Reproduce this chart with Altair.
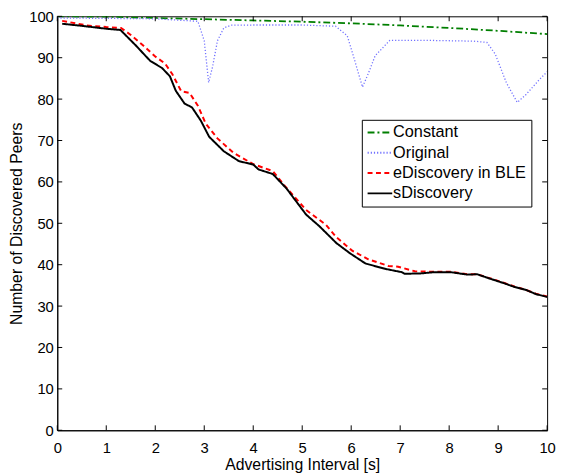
import altair as alt
import pandas as pd

# ---- data ----
const_x = [0, 1, 2, 3, 4, 5, 6, 7, 8, 9, 10]
const_y = [100.0, 99.9, 99.6, 99.3, 99.0, 98.7, 98.3, 97.8, 97.2, 96.5, 95.7]

orig_x = [0, 1, 2, 2.87, 3.0, 3.09, 3.17, 3.27, 3.4, 3.55, 4, 5, 5.68, 5.92, 6.09, 6.23,
          6.35, 6.49, 6.79, 7.5, 8.5, 8.77, 8.94, 9.17, 9.39, 9.57, 9.84, 10.0]
orig_y = [99.6, 99.5, 99.4, 98.8, 94.1, 84.0, 87.8, 94.1, 97.2, 97.85, 97.9, 97.9, 97.6,
          95.3, 88.6, 82.9, 86.2, 90.5, 94.2, 94.2, 94.0, 93.7, 90.9, 83.9, 79.2, 81.1,
          84.7, 86.6]

ed_x = [0.1, 0.6, 1.0, 1.3, 1.5, 1.76, 2.0, 2.2, 2.35, 2.53, 2.7, 2.87, 3.03, 3.27, 3.6,
        4.0, 4.4, 4.64, 5.08, 5.48, 5.7, 6.02, 6.35, 6.76, 6.96, 7.3, 7.7, 8.03, 8.37,
        8.57, 8.84, 9.1, 9.34, 9.57, 9.77, 10.0]
ed_y = [98.9, 97.8, 97.4, 97.2, 95.5, 92.9, 90.3, 88.6, 86.0, 81.9, 81.5, 78.4, 74.1,
        70.5, 67.0, 64.3, 62.6, 59.1, 53.2, 49.7, 46.6, 43.4, 41.3, 39.7, 39.5, 38.4,
        38.3, 38.3, 37.7, 37.7, 36.7, 35.7, 34.7, 33.9, 33.0, 32.3]

sd_x = [0.1, 0.5, 1.0, 1.29, 1.6, 1.9, 2.14, 2.3, 2.42, 2.6, 2.75, 2.93, 3.1, 3.4, 3.71,
        4.0, 4.11, 4.4, 4.68, 5.08, 5.35, 5.7, 5.97, 6.29, 6.69, 7.03, 7.09, 7.43, 7.7,
        8.03, 8.37, 8.57, 8.84, 9.1, 9.34, 9.57, 9.77, 10.0]
sd_y = [98.2, 97.7, 97.0, 96.7, 93.0, 89.2, 87.5, 85.5, 82.0, 78.9, 78.0, 74.8, 70.9,
        67.4, 65.0, 64.2, 63.0, 61.9, 58.4, 52.1, 49.3, 45.2, 42.8, 40.3, 39.0, 38.2,
        37.8, 37.9, 38.2, 38.2, 37.6, 37.7, 36.6, 35.6, 34.6, 33.9, 32.9, 32.2]

series_names = ["Constant", "Original", "eDiscovery in BLE", "sDiscovery"]
series_colors = ["#007f00", "#7070ff", "#ff0000", "#000000"]
series_dash = [[7, 3, 2, 3], [1.2, 2], [5, 3.5], [1, 0]]
series_width = [1.8, 1.3, 2.0, 2.0]

x_ticks = list(range(0, 11))
y_ticks = list(range(0, 101, 10))

rows = []
for name, xs, ys in zip(series_names,
                        [const_x, orig_x, ed_x, sd_x],
                        [const_y, orig_y, ed_y, sd_y]):
    for a, b in zip(xs, ys):
        rows.append({"series": name, "x": a, "y": b})
df = pd.DataFrame(rows)

W, H = 497, 420
FONT = "Liberation Sans"

xscale = alt.Scale(domain=[0, 10], nice=False, zero=False)
yscale = alt.Scale(domain=[0, 100], nice=False, zero=False)

x_enc = alt.X("x:Q", scale=xscale,
              axis=alt.Axis(values=x_ticks, tickSize=0, labelPadding=11, grid=False,
                            title="Advertising Interval [s]", titlePadding=1,
                            labelFontSize=15, titleFontSize=16, titleFontWeight="normal",
                            labelFlush=False))
y_enc = alt.Y("y:Q", scale=yscale,
              axis=alt.Axis(values=y_ticks, tickSize=0, labelPadding=4, grid=False,
                            title="Number of Discovered Peers", titlePadding=4,
                            labelFontSize=15, titleFontSize=16, titleFontWeight="normal",
                            labelFlush=False))
color_enc = alt.Color("series:N",
                      scale=alt.Scale(domain=series_names, range=series_colors),
                      sort=series_names,
                      legend=alt.Legend(title=None, orient="none", legendX=309, legendY=105,
                                        symbolType="M-1,0H2.57", symbolSize=196,
                                        labelFontSize=16.5, rowPadding=3.6,
                                        strokeColor="black", fillColor="white",
                                        padding=4.6, symbolStrokeWidth=2, labelOffset=10.6,
                                        cornerRadius=0))
dash_enc = alt.StrokeDash("series:N",
                          scale=alt.Scale(domain=series_names, range=series_dash),
                          sort=series_names, legend=alt.Legend(title=None))

layers = []
for name, sw in zip(series_names, series_width):
    layers.append(
        alt.Chart(df).transform_filter(alt.datum.series == name)
        .mark_line(clip=True, strokeWidth=sw)
        .encode(x=x_enc, y=y_enc, color=color_enc, strokeDash=dash_enc,
                order=alt.Order("x:Q"))
    )

xt = pd.DataFrame({"t": x_ticks})
yt = pd.DataFrame({"t": y_ticks})

xb = alt.Chart(xt).mark_rule(color="black", strokeWidth=1).encode(
    x=alt.X("t:Q", scale=xscale), y=alt.value(H), y2=alt.value(H - 5))
xtop = alt.Chart(xt).mark_rule(color="black", strokeWidth=1).encode(
    x=alt.X("t:Q", scale=xscale), y=alt.value(0), y2=alt.value(5))
yl = alt.Chart(yt).mark_rule(color="black", strokeWidth=1).encode(
    y=alt.Y("t:Q", scale=yscale), x=alt.value(0), x2=alt.value(5))
yr = alt.Chart(yt).mark_rule(color="black", strokeWidth=1).encode(
    y=alt.Y("t:Q", scale=yscale), x=alt.value(W), x2=alt.value(W - 5))

chart = alt.layer(*layers, xb, xtop, yl, yr).properties(
    width=W, height=H,
    autosize=alt.AutoSizeParams(type="none"),
    padding={"left": 50, "top": 5, "right": 9, "bottom": 46},
).configure(font=FONT).configure_view(
    stroke="black", strokeWidth=1
).configure_axis(
    domainColor="black", domainWidth=1, labelColor="black", titleColor="black",
    labelFont=FONT, titleFont=FONT
).configure_legend(labelFont=FONT, labelColor="black")

chart.save("out.html", embed_options={"renderer": "svg", "actions": False})
